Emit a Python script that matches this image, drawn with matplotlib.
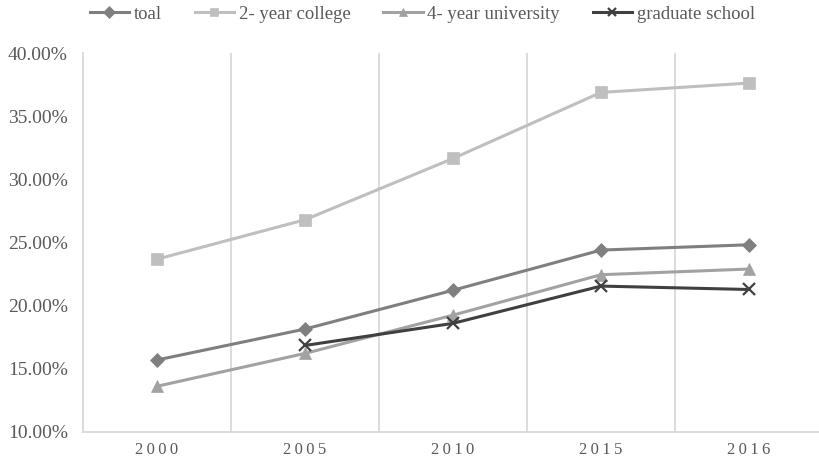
import matplotlib
matplotlib.use("Agg")
import matplotlib.pyplot as plt
from matplotlib.ticker import FuncFormatter, FixedLocator

years = ["2000", "2005", "2010", "2015", "2016"]
total = [15.70, 18.15, 21.22, 24.40, 24.82]
two_year = [23.68, 26.80, 31.65, 36.88, 37.62]
four_year = [13.62, 16.22, 19.25, 22.45, 22.90]
graduate = [None, 16.85, 18.60, 21.55, 21.28]

series = [
    ("toal", total, "#7f7f81", "D", 7.5),
    ("2- year college", two_year, "#bfbfc1", "s", 8.0),
    ("4- year university", four_year, "#a2a2a4", "^", 9.0),
    ("graduate school", graduate, "#404040", "x", 9.0),
]

plt.rcParams["font.family"] = ["Liberation Serif", "DejaVu Serif"]

fig = plt.figure(figsize=(8.2, 4.62), dpi=100)
ax = fig.add_axes([83 / 820, 30 / 462, 740 / 820, 379 / 462])

x = list(range(len(years)))
for name, vals, color, marker, ms in series:
    xs = [xi for xi, v in zip(x, vals) if v is not None]
    ys = [v for v in vals if v is not None]
    ax.plot(xs, ys, color=color, lw=2.2, marker=marker, ms=ms,
            mew=1.6 if marker == "x" else 0.5, mec=color, mfc=color,
            label=name, zorder=3)

ax.set_xlim(-0.5, 4.5)
ax.set_ylim(10, 40)
ax.set_yticks([10, 15, 20, 25, 30, 35, 40])
ax.yaxis.set_major_formatter(FuncFormatter(lambda v, p: f"{v:.2f}%"))
ax.set_xticks(x)
ax.set_xticklabels(["\u2009".join(y) for y in years])
ax.xaxis.set_minor_locator(FixedLocator([0.5, 1.5, 2.5, 3.5]))
ax.grid(which="minor", axis="x", color="#d9d9d9", lw=1.3)
ax.tick_params(axis="both", which="both", length=0)
ax.tick_params(axis="y", labelsize=14, labelcolor="#595959", pad=11)
ax.tick_params(axis="x", labelsize=12, labelcolor="#595959", pad=7)

for side in ("top", "right"):
    ax.spines[side].set_visible(False)
for side in ("left", "bottom"):
    ax.spines[side].set_color("#d9d9d9")
    ax.spines[side].set_linewidth(1.3)

leg = fig.legend(loc="center", bbox_to_anchor=(0.515, 1 - 14 / 462), ncol=4,
                 frameon=False, fontsize=13.5, handlelength=2.1,
                 handletextpad=0.25, columnspacing=1.75, labelcolor="#595959")
for h in leg.legend_handles:
    h.set_markersize(6)

fig.savefig("out.png", dpi=100)
